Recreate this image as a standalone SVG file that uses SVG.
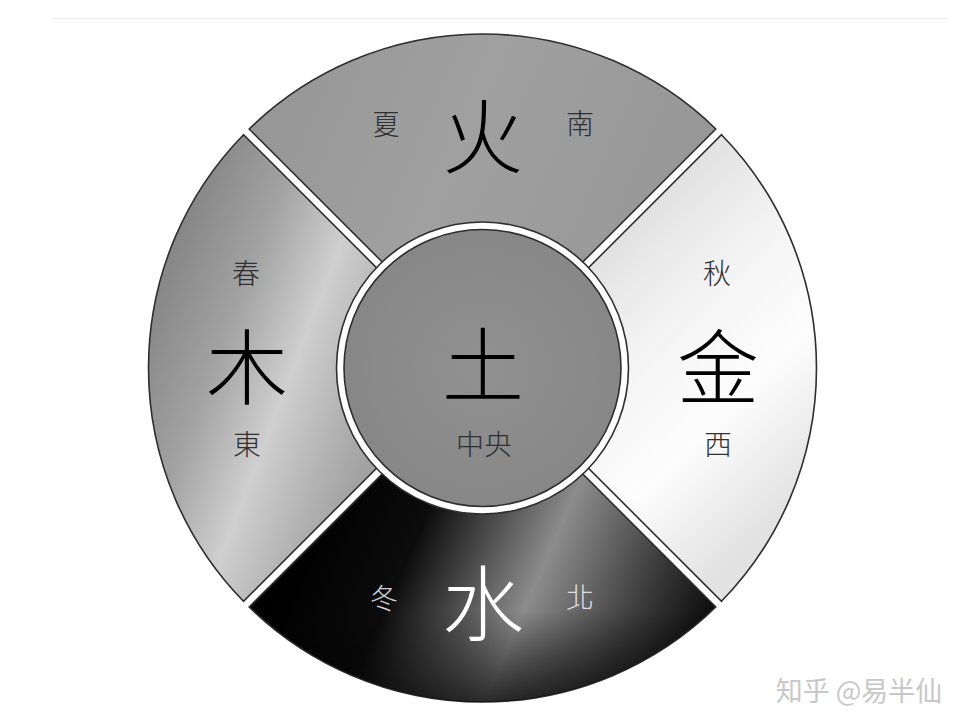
<svg xmlns="http://www.w3.org/2000/svg" width="974" height="727" viewBox="0 0 974 727">
<defs>
<style>
.seg{stroke:#2e2e2e;stroke-width:1.6}
.big{font-family:"Noto Sans CJK TC","Noto Sans CJK SC",sans-serif;font-size:82px;font-weight:300;text-anchor:middle;dominant-baseline:central}
.sm{font-family:"Noto Sans CJK TC","Noto Sans CJK SC",sans-serif;font-size:28px;font-weight:300;text-anchor:middle;dominant-baseline:central}
.wm{font-family:"Noto Sans CJK SC","Noto Sans",sans-serif;font-size:27px;text-anchor:middle;dominant-baseline:central}
</style>
<linearGradient id="gTop" x1="0" y1="0" x2="1" y2="0.3">
<stop offset="0" stop-color="#959595"/>
<stop offset="0.5" stop-color="#a0a0a0"/>
<stop offset="1" stop-color="#979797"/>
</linearGradient>
<linearGradient id="gLeft" gradientUnits="userSpaceOnUse" x1="150" y1="320" x2="385" y2="410">
<stop offset="0" stop-color="#888888"/>
<stop offset="0.3" stop-color="#a2a2a2"/>
<stop offset="0.6" stop-color="#cfcfcf"/>
<stop offset="0.85" stop-color="#b2b2b2"/>
<stop offset="1" stop-color="#a2a2a2"/>
</linearGradient>
<linearGradient id="gRight" gradientUnits="userSpaceOnUse" x1="590" y1="250" x2="815" y2="480">
<stop offset="0" stop-color="#e0e0e0"/>
<stop offset="0.35" stop-color="#f4f4f4"/>
<stop offset="0.65" stop-color="#fdfdfd"/>
<stop offset="1" stop-color="#e2e2e2"/>
</linearGradient>
<linearGradient id="gBot" gradientUnits="userSpaceOnUse" x1="330" y1="470" x2="720" y2="640">
<stop offset="0" stop-color="#000000"/>
<stop offset="0.25" stop-color="#0c0c0c"/>
<stop offset="0.55" stop-color="#8c8c8c"/>
<stop offset="0.8" stop-color="#3a3a3a"/>
<stop offset="1" stop-color="#000000"/>
</linearGradient>
<linearGradient id="gBotShade" gradientUnits="userSpaceOnUse" x1="0" y1="610" x2="0" y2="702">
<stop offset="0" stop-color="#000" stop-opacity="0"/>
<stop offset="1" stop-color="#000" stop-opacity="0.7"/>
</linearGradient>
<radialGradient id="gCenter" cx="0.5" cy="0.5" r="0.5">
<stop offset="0" stop-color="#919191"/>
<stop offset="1" stop-color="#878787"/>
</radialGradient>
</defs>
<rect width="974" height="727" fill="#ffffff"/>
<line x1="52" y1="18.5" x2="948" y2="18.5" stroke="#eeeeee" stroke-width="1"/>

<g id="fire">
<path class="seg" fill="url(#gTop)" d="M482.5,362.3 L249.2,129 A334,334 0 0 1 715.8,129 Z"/>
<text class="big" x="483" y="131">火</text>
<text class="sm" x="386" y="123" fill="#303030">夏</text>
<text class="sm" x="580" y="122" fill="#303030">南</text>
</g>

<g id="metal">
<path class="seg" fill="url(#gRight)" d="M488.2,368 L721.5,134.7 A334,334 0 0 1 721.5,601.3 Z"/>
<text class="sm" x="717" y="272" fill="#303030">秋</text>
<text class="big" x="718" y="362">金</text>
<text class="sm" x="718" y="443" fill="#303030">西</text>
</g>

<g id="water">
<path class="seg" fill="url(#gBot)" d="M482.5,373.7 L715.8,607 A334,334 0 0 1 249.2,607 Z"/>
<path fill="url(#gBotShade)" d="M482.5,373.7 L715.8,607 A334,334 0 0 1 249.2,607 Z"/>
<text class="big" x="483" y="598" fill="#ffffff">水</text>
<text class="sm" x="384" y="597" fill="#d0d0d0">冬</text>
<text class="sm" x="580" y="596" fill="#dddddd">北</text>
</g>

<g id="wood">
<path class="seg" fill="url(#gLeft)" d="M476.8,368 L243.5,601.3 A334,334 0 0 1 243.5,134.7 Z"/>
<text class="sm" x="246" y="272" fill="#303030">春</text>
<text class="big" x="247" y="362">木</text>
<text class="sm" x="247" y="443" fill="#303030">東</text>
</g>

<g id="earth">
<circle cx="482.5" cy="368" r="146" fill="#ffffff" stroke="#2e2e2e" stroke-width="1.6"/>
<circle cx="482.5" cy="368" r="138.5" fill="url(#gCenter)" stroke="#2e2e2e" stroke-width="1.6"/>
<text class="big" x="483" y="360">土</text>
<text class="sm" x="484" y="443" fill="#303030">中央</text>
</g>

<g id="watermark">
<text class="wm" x="859" y="689" fill="#c8c8c8">知乎 @易半仙</text>
</g>
</svg>
